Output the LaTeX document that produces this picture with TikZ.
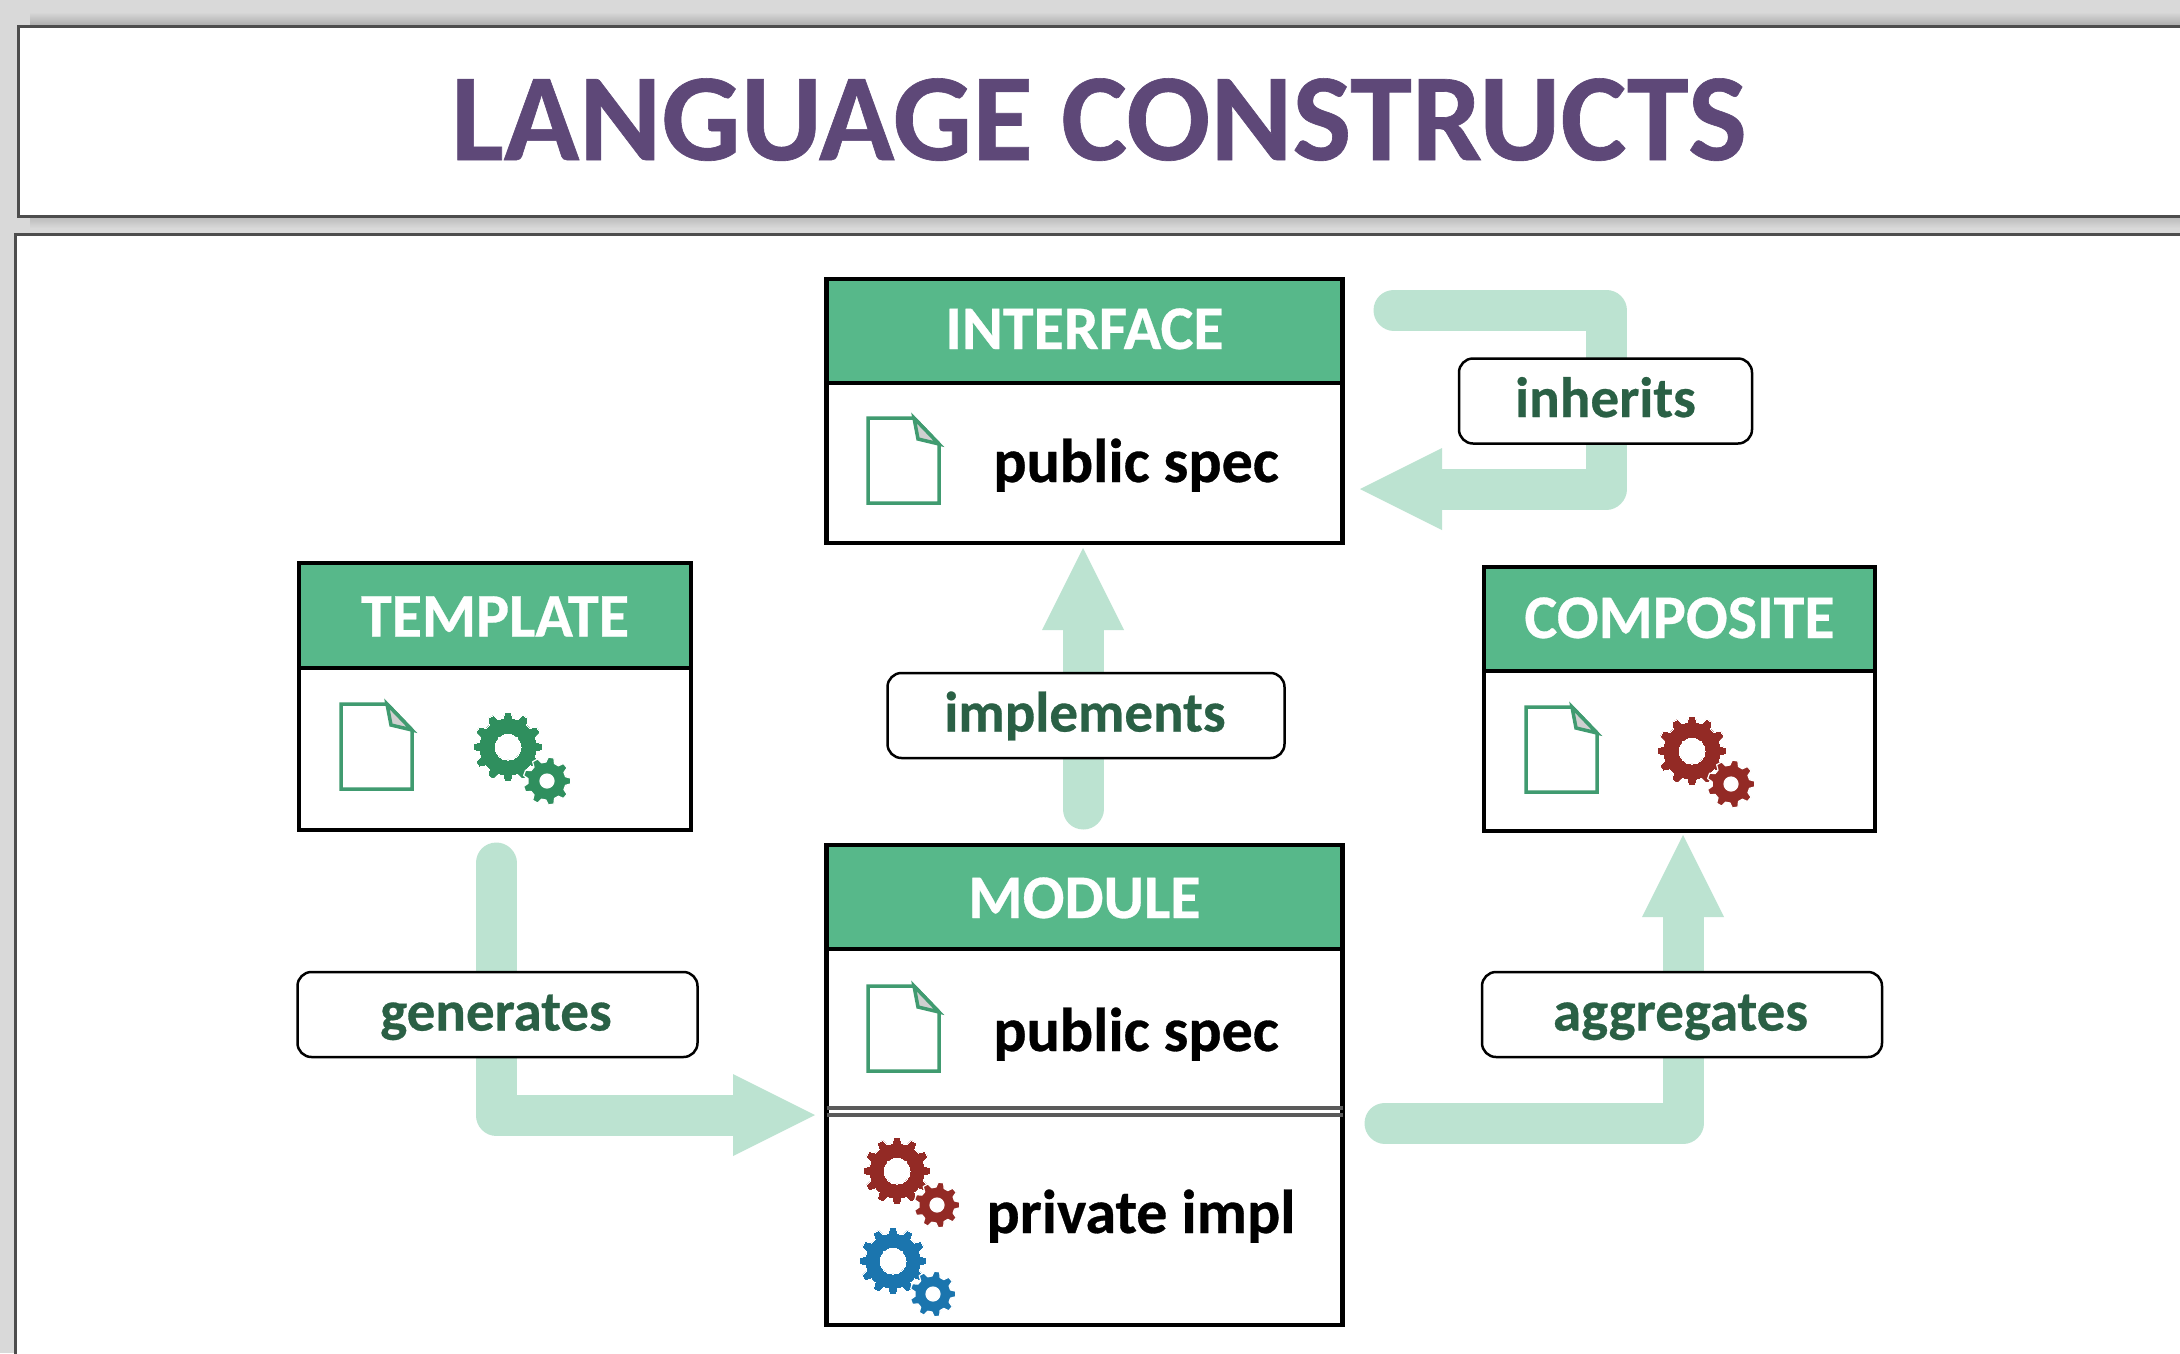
\documentclass[tikz,border=0pt]{standalone}
\usepackage{fontspec}
\setmainfont{Carlito}[BoldFeatures={FakeBold=0.5}]
\definecolor{pagebg}{HTML}{D9D9D9}
\definecolor{panelline}{HTML}{4D4D4D}
\definecolor{titlecol}{HTML}{5E4878}
\definecolor{hdrgreen}{HTML}{57B88A}
\definecolor{arrowgreen}{HTML}{BCE3D1}
\definecolor{labelgreen}{HTML}{2A6045}
\definecolor{docgreen}{HTML}{409B70}
\definecolor{foldgray}{HTML}{D0D0D0}
\definecolor{geargreen}{HTML}{2F8F5E}
\definecolor{gearred}{HTML}{932A25}
\definecolor{gearblue}{HTML}{1B75AE}
\definecolor{sepgray}{HTML}{5A5A5A}
\newcommand{\cogwheel}[8]{% x,y,rout,rin,rhole,teeth,colour,halo width
  \begin{scope}[shift={(#1,#2)}]
    \pgfmathsetmacro{\cogstep}{360/#6}
    \path[fill=#7,even odd rule,draw=white,line width=#8pt,line join=round]
      (-0.17*\cogstep:#3pt)
      foreach \cogi in {1,...,#6} {
        -- ({(\cogi-1)*\cogstep+0.17*\cogstep}:#3pt)
        -- ({(\cogi-1)*\cogstep+0.33*\cogstep}:#4pt)
        -- ({(\cogi-1)*\cogstep+0.67*\cogstep}:#4pt)
        -- ({(\cogi-1)*\cogstep+0.83*\cogstep}:#3pt)
      } -- cycle
      (0,0) circle[radius=#5pt];
  \end{scope}}
\newcommand{\docicon}[2]{% top-left x,y
  \begin{scope}[shift={(#1,#2)}]
    \draw[docline] (0,0) -- (46,0) -- (71,26) -- (71,85) -- (0,85) -- cycle;
    \draw[docline,fill=foldgray] (46,0) -- (50,21) -- (71,26) -- cycle;
  \end{scope}}
\newcommand{\arrowhead}[2]{% tip coordinate, direction from tip back to the base
  \fill[arrowgreen,shift={(#1)},rotate=#2] (0,0) -- (82,-41) -- (82,41) -- cycle;}
\tikzset{
  x=1pt,y=-1pt,
  panel/.style={draw=panelline,line width=3pt,fill=white},
  hdrbox/.style={draw=black,line width=4.5pt,fill=hdrgreen,text=white,outer sep=0pt,inner sep=0pt,
    font=\bfseries\fontsize{62}{62}\selectfont,text height=52pt,text depth=10pt},
  bodybox/.style={draw=black,line width=4.5pt,fill=white,outer sep=0pt,inner sep=0pt},
  bodytext/.style={anchor=base,inner sep=0pt,text=black,font=\bfseries\fontsize{62}{62}\selectfont},
  relbox/.style={draw=black,line width=2.5pt,fill=white,rounded corners=14pt,text=labelgreen,outer sep=0pt,inner sep=0pt,
    font=\bfseries\fontsize{57}{57}\selectfont,text height=42pt,text depth=10pt},
  relarrow/.style={draw=arrowgreen,line width=41pt,line join=round,line cap=round},
  docline/.style={draw=docgreen,line width=3.5pt,line join=miter},
}
\begin{document}
\begin{tikzpicture}
\useasboundingbox (0,0) rectangle (2180,1353);
\clip (0,0) rectangle (2180,1353);
\fill[pagebg] (0,0) rectangle (2180,1353);
% soft shadows of the title panel
\shade[top color=pagebg,bottom color=black!32] (30,12) rectangle (2180,25);
\shade[top color=black!28,bottom color=pagebg] (30,216) rectangle (2180,228);
% panels
\node[panel,minimum width=2200pt,minimum height=190pt,anchor=north west,outer sep=0pt,inner sep=0pt] (titlepanel) at (18,26) {};
\node[panel,minimum width=2200pt,minimum height=1160pt,anchor=north west,outer sep=0pt,inner sep=0pt] (mainpanel) at (15,234.5) {};
\node[anchor=base,inner sep=0pt,text=titlecol,font=\bfseries\fontsize{124.6}{125}\selectfont] (titletext) at (1099,160) {LANGUAGE CONSTRUCTS};

% free ends of connectors
\coordinate (inhStart) at (1394,310);
\coordinate (inhTurnA) at (1606,310);
\coordinate (inhTurnB) at (1606,489);
\coordinate (inhBase) at (1442,489);
\coordinate (inhTip) at (1360,489);
\coordinate (impStart) at (1083,809);
\coordinate (impBase) at (1083,630);
\coordinate (impTip) at (1083,548);
\coordinate (genStart) at (496,863);
\coordinate (genTurn) at (496,1115);
\coordinate (genBase) at (734,1115);
\coordinate (genTip) at (815,1115);
\coordinate (aggStart) at (1385,1123);
\coordinate (aggTurn) at (1683,1123);
\coordinate (aggBase) at (1683,917);
\coordinate (aggTip) at (1683,835);

% connectors
\draw[relarrow] (inhStart) -- (inhTurnA) -- (inhTurnB) -- (inhBase);
\arrowhead{inhTip}{0}
\draw[relarrow] (impStart) -- (impBase);
\arrowhead{impTip}{-90}
\draw[relarrow] (genStart) -- (genTurn) -- (genBase);
\arrowhead{genTip}{180}
\draw[relarrow] (aggStart) -- (aggTurn) -- (aggBase);
\arrowhead{aggTip}{-90}

% INTERFACE
\node[hdrbox,minimum width=516pt,minimum height=104pt] (ifaceHead) at (1084.5,331) {\raisebox{3pt}{INTERFACE}};
\node[bodybox,minimum width=516pt,minimum height=160pt] (ifaceBody) at (1084.5,463) {};
\node[bodytext] (ifaceText) at (1136,482) {public spec};
\docicon{868}{418}

% TEMPLATE
\node[hdrbox,minimum width=392pt,minimum height=105pt] (tmplHead) at (495,615.5) {TEMPLATE};
\node[bodybox,minimum width=392pt,minimum height=162pt] (tmplBody) at (495,749) {};
\docicon{341}{704}
\cogwheel{508}{747}{35}{29}{13}{12}{geargreen}{0}
\cogwheel{547}{781}{24}{19}{7}{9}{geargreen}{1.2}

% COMPOSITE
\node[hdrbox,minimum width=391pt,minimum height=104pt] (compHead) at (1679.5,619) {\raisebox{2pt}{COMPOSITE}};
\node[bodybox,minimum width=391pt,minimum height=160pt] (compBody) at (1679.5,751) {};
\docicon{1526}{707}
\cogwheel{1692}{751}{35}{29}{13}{12}{gearred}{0}
\cogwheel{1731}{784}{24}{19}{7}{9}{gearred}{1.2}

% MODULE
\node[hdrbox,minimum width=516pt,minimum height=104pt] (modHead) at (1084.5,897) {MODULE};
\node[bodybox,minimum width=516pt,minimum height=376pt] (modBody) at (1084.5,1137) {};
\node[bodytext] (modPub) at (1136,1051) {public spec};
\node[bodytext] (modPriv) at (1141,1233) {private impl};
\draw[sepgray,line width=3.5pt] (modBody.west |- 0,1108) -- (modBody.east |- 0,1108);
\draw[sepgray,line width=3.5pt] (modBody.west |- 0,1115) -- (modBody.east |- 0,1115);
\docicon{868}{986}
\cogwheel{897}{1171}{34}{28}{13}{12}{gearred}{0}
\cogwheel{937}{1205}{23}{18}{7}{9}{gearred}{1.2}
\cogwheel{893}{1261}{34}{28}{13}{12}{gearblue}{0}
\cogwheel{933}{1294}{23}{18}{7}{9}{gearblue}{1.2}

% relation labels
\node[relbox,minimum width=293pt,minimum height=85pt] (inhLabel) at (1605.5,401) {inherits};
\node[relbox,minimum width=397pt,minimum height=85pt] (impLabel) at (1086,715.5) {\hspace{-2pt}implements};
\node[relbox,minimum width=400pt,minimum height=85pt] (genLabel) at (497.5,1014.5) {\hspace{-3pt}generates};
\node[relbox,minimum width=400pt,minimum height=85pt] (aggLabel) at (1682,1014.5) {\hspace{-3pt}aggregates};
\end{tikzpicture}
\end{document}
